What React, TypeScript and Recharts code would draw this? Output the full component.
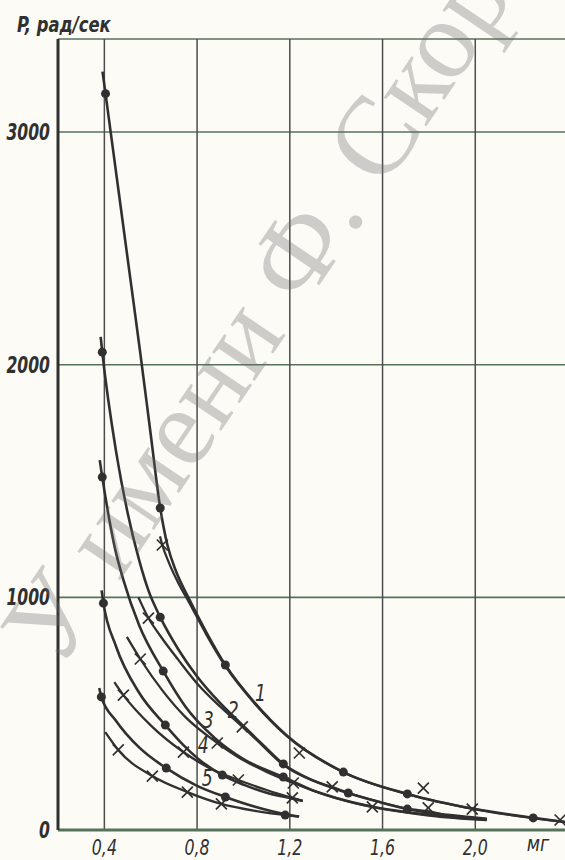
import React from 'react';
import { ComposedChart, Line, Scatter, XAxis, YAxis, CartesianGrid } from 'recharts';

type Pt = [number, number];

const xTicks = [0.4, 0.8, 1.2, 1.6, 2.0];
const yTicks = [0, 1000, 2000, 3000, 3400];

// curves through the dots
const dotLine1: Pt[] = [[0.392, 3260], [0.405, 3165], [0.44, 2905], [0.512, 2370], [0.555, 2050], [0.6, 1700], [0.641, 1384], [0.672, 1225], [0.71, 1110], [0.762, 1000], [0.84, 850], [0.922, 709], [1.05, 545], [1.189, 404], [1.431, 249], [1.707, 155], [2.0, 90], [2.25, 52], [2.39, 34]];
const dotLine2: Pt[] = [[0.384, 2120], [0.391, 2054], [0.45, 1630], [0.5, 1365], [0.55, 1160], [0.59, 1030], [0.641, 915], [0.72, 775], [0.8, 660], [0.9, 545], [0.995, 452], [1.08, 370], [1.172, 284], [1.3, 213], [1.452, 159], [1.58, 122], [1.707, 90], [1.88, 65], [2.05, 48]];
const dotLine3: Pt[] = [[0.38, 1590], [0.391, 1517], [0.447, 1205], [0.482, 1075], [0.55, 880], [0.654, 683], [0.75, 530], [0.877, 395], [1.0, 305], [1.172, 228], [1.3, 170], [1.4, 138], [1.556, 100], [1.8, 66], [2.05, 45]];
const dotLine4: Pt[] = [[0.388, 1030], [0.396, 975], [0.45, 790], [0.55, 590], [0.663, 451], [0.741, 365], [0.8, 310], [0.909, 236], [1.0, 195], [1.1, 160], [1.211, 135], [1.256, 125]];
const dotLine5: Pt[] = [[0.378, 610], [0.387, 572], [0.45, 470], [0.55, 355], [0.667, 266], [0.8, 190], [0.922, 142], [1.05, 100], [1.18, 68], [1.24, 58]];

// curves through the crosses
const crossLine1: Pt[] = [[0.64, 1262], [0.65, 1225], [0.68, 1145], [0.72, 1060], [0.762, 985], [0.84, 840], [0.922, 704], [1.05, 542], [1.189, 402], [1.431, 248], [1.707, 154], [2.0, 89], [2.25, 51], [2.39, 34]];
const crossLine2: Pt[] = [[0.547, 1000], [0.59, 911], [0.641, 835], [0.72, 730], [0.8, 630], [0.9, 530], [0.995, 445], [1.08, 365], [1.172, 280], [1.3, 212], [1.383, 185], [1.452, 160], [1.58, 122], [1.707, 92], [1.8, 80], [1.88, 64], [2.05, 47]];
const crossLine3: Pt[] = [[0.497, 830], [0.555, 735], [0.65, 600], [0.75, 485], [0.887, 374], [1.0, 300], [1.1, 250], [1.215, 202], [1.35, 152], [1.45, 123], [1.556, 99], [1.8, 62], [2.05, 42]];
const crossLine4: Pt[] = [[0.443, 636], [0.482, 580], [0.6, 450], [0.741, 335], [0.85, 268], [0.978, 215], [1.1, 172], [1.211, 138], [1.256, 125]];
const crossLine5: Pt[] = [[0.404, 421], [0.46, 344], [0.607, 232], [0.758, 163], [0.905, 112], [1.05, 82], [1.2, 62], [1.24, 58]];

// measured points
const dots1: Pt[] = [[0.405, 3165], [0.641, 1384], [0.922, 709], [1.431, 249], [1.707, 155], [2.25, 52]];
const dots2: Pt[] = [[0.391, 2054], [0.641, 915], [1.172, 284], [1.452, 159], [1.707, 90]];
const dots3: Pt[] = [[0.391, 1517], [0.654, 683], [1.172, 228]];
const dots4: Pt[] = [[0.396, 975], [0.663, 451], [0.909, 236]];
const dots5: Pt[] = [[0.387, 572], [0.667, 266], [0.922, 142], [1.18, 64]];

const crosses1: Pt[] = [[0.65, 1225], [1.241, 331], [1.776, 180], [1.987, 90], [2.366, 43]];
const crosses2: Pt[] = [[0.59, 911], [0.995, 443], [1.383, 185], [1.797, 95]];
const crosses3: Pt[] = [[0.555, 735], [0.887, 374], [1.215, 202], [1.556, 99]];
const crosses4: Pt[] = [[0.482, 580], [0.741, 335], [0.978, 215], [1.211, 138]];
const crosses5: Pt[] = [[0.46, 344], [0.607, 232], [0.758, 163], [0.905, 112]];

const curveNames = ['1', '2', '3', '4', '5'];
const curveNameAt: Pt[] = [[1.073, 589], [0.956, 516], [0.848, 473], [0.827, 365], [0.844, 223]];

const INK = '#303030';
const GRID_V = '#4d4d4d';
const GRID_H = '#56725a';
const FONT = "'DejaVu Sans', sans-serif";

const xy = (pts: Pt[]) => pts.map(([x, y]) => ({ x, y }));

const dotLines = [dotLine1, dotLine2, dotLine3, dotLine4, dotLine5];
const crossLines = [crossLine1, crossLine2, crossLine3, crossLine4, crossLine5];
const dotSets = [dots1, dots2, dots3, dots4, dots5];
const crossSets = [crosses1, crosses2, crosses3, crosses4, crosses5];
const nameData = curveNames.map((name, i) => ({ x: curveNameAt[i][0], y: curveNameAt[i][1], name }));

const DotMark = (p: any) => <circle cx={p.cx} cy={p.cy} r={4.5} fill={INK} />;

const CrossMark = (p: any) => {
  const s = 5.5;
  return (
    <g stroke={INK} strokeWidth={1.7}>
      <line x1={p.cx - s} y1={p.cy - s} x2={p.cx + s} y2={p.cy + s} />
      <line x1={p.cx - s} y1={p.cy + s} x2={p.cx + s} y2={p.cy - s} />
    </g>
  );
};

const NameMark = (p: any) => (
  <g transform={`translate(${p.cx},${p.cy}) scale(0.75,1)`}>
    <text x={0} y={8} textAnchor="middle" fontSize={23} fontStyle="italic" fontFamily={FONT} fill={INK}>
      {p.payload.name}
    </text>
  </g>
);

const YTick = (p: any) => {
  const v = p.payload.value;
  if (v === 3400) return null;
  return (
    <g transform={`translate(${p.x},${p.y}) scale(0.68,1)`}>
      <text x={0} y={8} textAnchor="end" fontSize={23} fontWeight="bold" fontStyle="italic" fontFamily={FONT} fill={INK}>
        {v}
      </text>
    </g>
  );
};

const XTick = (p: any) => (
  <g transform={`translate(${p.x},${p.y}) scale(0.72,1)`}>
    <text x={0} y={25} textAnchor="middle" fontSize={22} fontStyle="italic" fontFamily={FONT} fill={INK}>
      {p.payload.value.toFixed(1).replace('.', ',')}
    </text>
  </g>
);

export default function App() {
  return (
    <div style={{ position: 'relative', width: 565, height: 860, overflow: 'hidden', background: '#fcfbf5' }}>
      <style>{'html,body{margin:0;overflow:hidden;background:#fcfbf5}'}</style>
      <ComposedChart width={568} height={860} margin={{ top: 39, right: 0, bottom: 0, left: 8 }}>
        <CartesianGrid vertical={false} stroke={GRID_H} strokeWidth={1.6} />
        <CartesianGrid horizontal={false} stroke={GRID_V} strokeWidth={1.5} />
        <XAxis
          type="number"
          dataKey="x"
          domain={[0.2, 2.4]}
          allowDataOverflow
          ticks={xTicks}
          interval={0}
          height={30}
          tickSize={0}
          tickMargin={0}
          tickLine={false}
          axisLine={{ stroke: GRID_H, strokeWidth: 3 }}
          tick={<XTick />}
          label={() => (
            <g transform="translate(538,851) scale(0.8,1)">
              <text x={0} y={0} textAnchor="middle" fontSize={22} fontStyle="italic" fontFamily={FONT} fill={INK}>
                мг
              </text>
            </g>
          )}
        />
        <YAxis
          type="number"
          dataKey="y"
          domain={[0, 3400]}
          allowDataOverflow
          ticks={yTicks}
          interval={0}
          width={50}
          tickSize={0}
          tickMargin={8}
          tickLine={false}
          axisLine={{ stroke: INK, strokeWidth: 3 }}
          tick={<YTick />}
          label={() => (
            <g transform="translate(17,32) scale(0.78,1)">
              <text x={0} y={0} fontSize={21} fontWeight="bold" fontStyle="italic" fontFamily={FONT} fill={INK}>
                P, рад/сек
              </text>
            </g>
          )}
        />
        {dotLines.map((pts, i) => (
          <Line key={'d' + i} data={xy(pts)} dataKey="y" type="monotone" stroke={INK} strokeWidth={2.6} dot={false} activeDot={false} isAnimationActive={false} />
        ))}
        {crossLines.map((pts, i) => (
          <Line key={'c' + i} data={xy(pts)} dataKey="y" type="monotone" stroke={INK} strokeWidth={2.3} dot={false} activeDot={false} isAnimationActive={false} />
        ))}
        {dotSets.map((pts, i) => (
          <Scatter key={'sd' + i} data={xy(pts)} dataKey="y" shape={DotMark} isAnimationActive={false} />
        ))}
        {crossSets.map((pts, i) => (
          <Scatter key={'sc' + i} data={xy(pts)} dataKey="y" shape={CrossMark} isAnimationActive={false} />
        ))}
        <Scatter data={nameData} dataKey="y" shape={NameMark} isAnimationActive={false} />
      </ComposedChart>
      <svg width={565} height={860} style={{ position: 'absolute', left: 0, top: 0, pointerEvents: 'none' }}>
        <text
          x={59}
          y={671}
          transform="rotate(-56 59 671)"
          fontSize={112}
          fontFamily="'Liberation Serif', 'DejaVu Serif', serif"
          fill="rgba(110,110,110,0.33)"
        >
          У имени Ф. Скорины
        </text>
      </svg>
    </div>
  );
}
